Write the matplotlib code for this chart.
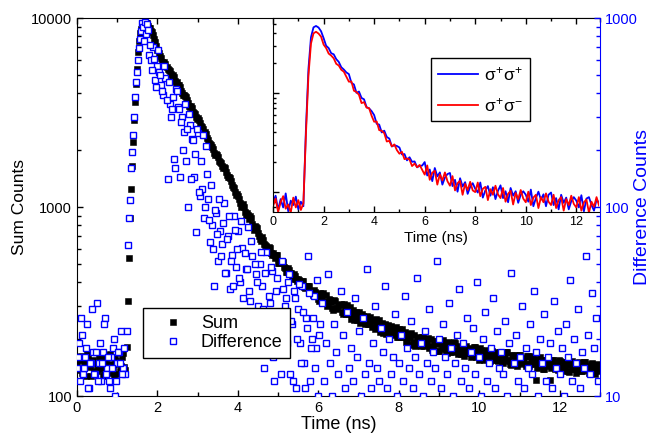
import numpy as np
import matplotlib
matplotlib.use("Agg")
import matplotlib.pyplot as plt
from matplotlib.ticker import LogLocator, NullFormatter, MultipleLocator

plt.rcParams['font.family'] = ['Liberation Sans', 'DejaVu Sans']
plt.rcParams['mathtext.fontset'] = 'custom'
plt.rcParams['mathtext.rm'] = 'Liberation Sans'
plt.rcParams['mathtext.it'] = 'Liberation Sans'
plt.rcParams['mathtext.bf'] = 'Liberation Sans:bold'

# ---- main plot data (counts per time bin) ----
# before the pulse, t = 0 .. 1.20 ns (every 0.05 ns) and 0.025 .. 1.175 ns
sum_base = [150, 138, 162, 131, 145, 170, 142, 128, 155, 148, 136, 160, 141,
            127, 152, 165, 133, 147, 139, 158, 130, 149, 144, 168, 137]
sum_base2 = [141, 156, 133, 149, 127, 163, 144, 152, 135, 171, 139, 146, 158,
             130, 150, 137, 166, 143, 129, 154, 147, 135, 160, 142]
diff_base = [14, 19, 26, 13, 16, 24, 11, 15, 17, 13, 31, 15, 12, 17, 26, 14,
             12, 16, 18, 10, 15, 17, 22, 14, 13]
diff_base2 = [16, 12, 21, 14, 18, 11, 15, 29, 13, 17, 12, 19, 15, 24, 13, 16,
              11, 14, 20, 12, 17, 15, 13, 18]
# rising edge, t = 1.25 .. 1.725 ns, every 0.025 ns
sum_rise = [182, 320, 540, 880, 1250, 1650, 2200, 2900, 3600, 4500, 5400,
            6600, 7600, 8300, 8700, 9000, 9250, 9400, 9450, 9400]
diff_rise = [22, 63, 88, 109, 160, 195, 240, 300, 380, 460, 520, 600, 690,
             770, 850, 940, 900, 760, 950, 820]
# decay, t = 1.75 .. 12.95 ns, every 0.05 ns
sum_decay = [
    9410, 8840, 8580, 8160, 7440, 6810, 6540, 6110, 5780, 5730,
    5390, 5240, 4910, 4880, 4550, 4430, 4290, 3990, 3920, 3810,
    3560, 3370, 3350, 3160, 2990, 2950, 2770, 2660, 2470, 2430,
    2250, 2160, 2080, 1920, 1900, 1850, 1730, 1640, 1620, 1540,
    1450, 1420, 1300, 1260, 1160, 1140, 1050, 1030, 1000, 906,
    907, 894, 817, 758, 781, 730, 680, 694, 635, 625,
    581, 609, 559, 558, 555, 508, 518, 520, 479, 455,
    475, 450, 426, 440, 414, 416, 389, 407, 378, 381,
    381, 352, 361, 366, 339, 325, 349, 330, 309, 341,
    313, 322, 292, 322, 290, 300, 306, 272, 291, 303,
    271, 257, 285, 269, 253, 280, 256, 264, 240, 266,
    240, 248, 253, 226, 241, 253, 226, 215, 240, 227,
    213, 236, 217, 224, 204, 226, 205, 211, 217, 193,
    207, 216, 194, 184, 206, 195, 184, 205, 189, 196,
    179, 200, 181, 189, 195, 174, 188, 197, 178, 169,
    190, 180, 171, 190, 176, 182, 166, 185, 169, 175,
    180, 161, 173, 182, 164, 156, 176, 167, 158, 176,
    163, 169, 155, 172, 156, 162, 168, 150, 161, 170,
    154, 146, 165, 156, 147, 165, 152, 158, 144, 162,
    147, 153, 157, 122, 152, 161, 145, 139, 155, 148,
    121, 156, 145, 150, 138, 154, 140, 146, 151, 135,
    146, 154, 139, 133, 150, 142, 135, 151, 140, 145,
    133, 149, 136, 142, 146]
# decay, in-between bins t = 1.775 .. 12.975 ns
sum_decay2 = [
    9020, 8860, 8440, 7700, 7100, 6780, 6300, 5870, 5840, 5480,
    5340, 5030, 4980, 4630, 4560, 4420, 4130, 3910, 3870, 3680,
    3440, 3420, 3200, 3110, 2930, 2890, 2670, 2600, 2500, 2320,
    2180, 2135, 2020, 1890, 1880, 1760, 1715, 1615, 1600, 1485,
    1445, 1380, 1270, 1195, 1165, 1100, 998, 1032, 945, 931,
    859, 875, 787, 790, 775, 706, 660, 671, 633, 584,
    614, 571, 570, 536, 554, 505, 517, 514, 474, 451,
    467, 448, 414, 434, 406, 410, 388, 404, 371, 383,
    383, 357, 342, 356, 345, 320, 343, 350, 316, 299,
    328, 315, 286, 320, 291, 302, 280, 306, 271, 291,
    296, 268, 253, 278, 268, 243, 272, 248, 258, 240,
    263, 232, 250, 256, 232, 219, 242, 233, 212, 238,
    217, 226, 210, 231, 204, 220, 226, 205, 194, 214,
    206, 187, 210, 191, 199, 186, 205, 183, 198, 203,
    185, 176, 196, 190, 173, 195, 179, 187, 174, 192,
    171, 186, 192, 174, 166, 183, 177, 163, 184, 168,
    176, 164, 181, 161, 174, 180, 163, 156, 173, 167,
    153, 173, 158, 165, 154, 171, 152, 165, 170, 155,
    147, 164, 158, 144, 164, 150, 157, 147, 163, 145,
    157, 162, 148, 141, 156, 151, 139, 156, 144, 150,
    141, 156, 139, 151, 156, 142, 136, 151, 146, 134,
    152, 139, 146, 137, 151, 135, 147, 152, 138, 132,
    147, 143, 131, 148, 136]
diff_decay = [
    930, 640, 600, 700, 470, 560, 520,
    440, 390, 480, 140, 350, 330, 180, 420, 340, 145,
    300, 250, 175, 100, 270, 230, 145, 74, 245, 115,
    125, 88, 210, 110, 65, 80, 38, 93, 52, 75,
    64, 105, 45, 70, 37, 56, 90, 48, 75, 40,
    61, 28, 47, 78, 32, 55, 19, 44, 30, 50,
    38, 14, 58, 25, 31, 46, 12, 36, 22, 28,
    52, 17, 33, 40, 13, 24, 36, 11, 29, 19,
    38, 15, 26, 55, 12, 20, 34, 18, 10, 24,
    31, 12, 19, 44, 15, 10, 24, 17, 13, 36,
    21, 11, 28, 14, 18, 12, 33, 16, 22, 10,
    26, 13, 47, 15, 11, 19, 30, 14, 12, 23,
    17, 38, 11, 20, 13, 16, 27, 10, 15, 21,
    12, 34, 18, 14, 25, 11, 16, 42, 13, 19,
    10, 22, 15, 29, 12, 17, 14, 52, 20, 11,
    24, 16, 13, 31, 18, 10, 15, 21, 37, 12,
    19, 14, 26, 11, 17, 23, 13, 40, 16, 10,
    20, 28, 12, 15, 18, 33, 11, 22, 14, 17,
    13, 25, 10, 19, 45, 15, 21, 12, 16, 30,
    11, 18, 14, 24, 13, 36, 17, 10, 20, 15,
    27, 12, 16, 19, 11, 32, 14, 22, 13, 18,
    10, 24, 16, 41, 12, 20, 15, 29, 11, 17,
    14, 55, 21, 13, 35, 18, 26, 12]
# in-between bins t = 1.775 .. 6.025 ns
diff_decay2 = [
    860, 720, 530, 610, 430, 680, 500, 410, 560, 370,
    460, 300, 380, 160, 410, 330, 280, 200, 350, 260,
    310, 140, 225, 190, 260, 120, 175, 240, 100, 150,
    85, 130, 60, 96, 72, 110, 55, 82, 45, 68,
    90, 52, 38, 76, 60, 42, 84, 33, 57, 47,
    36, 66, 24, 50, 40, 18, 58, 29, 45, 21,
    34, 48, 16, 27, 42, 22, 13, 37, 30, 19,
    44, 25, 12, 33, 20, 39, 15, 28, 11, 23,
    35, 18, 26, 14, 41, 21]

# ---- inset data, t = 0 .. 12.9 ns every 0.1 ns ----
pp_counts = [
    78, 92, 66, 85, 70, 97, 64, 82, 74, 90,
    67, 80, 72, 430, 1750, 3650, 4600, 4750, 4580, 4200,
    3580, 3000, 2840, 2522, 2458, 2197, 2060, 1820, 1725, 1613,
    1552, 1265, 1220, 1004, 1035, 892, 864, 721, 700, 656,
    599, 489, 480, 400, 417, 360, 347, 289, 297, 292,
    282, 240, 242, 209, 225, 202, 204, 178, 184, 185,
    201, 147, 169, 129, 175, 144, 158, 119, 140, 152,
    156, 115, 133, 101, 138, 114, 126, 96, 113, 123,
    108, 99, 125, 88, 104, 115, 92, 112, 85, 103,
    117, 87, 102, 79, 110, 92, 102, 78, 94, 102,
    94, 80, 106, 72, 87, 101, 84, 95, 72, 94,
    99, 74, 87, 67, 94, 78, 88, 67, 81, 89,
    82, 70, 93, 64, 86, 89, 74, 65, 84, 78]
pm_counts = [
    72, 86, 63, 79, 91, 68, 75, 62, 88, 70,
    83, 66, 77, 380, 1500, 3150, 4000, 4150, 3980, 3700,
    3080, 2840, 2500, 2388, 2238, 1970, 1894, 1714, 1642, 1465,
    1301, 1308, 1054, 1025, 958, 791, 809, 712, 703, 589,
    513, 516, 422, 416, 393, 324, 329, 289, 303, 265,
    244, 255, 215, 219, 213, 183, 194, 178, 188, 168,
    150, 186, 133, 157, 164, 119, 151, 131, 158, 129,
    116, 145, 104, 123, 130, 94, 121, 105, 127, 104,
    100, 125, 91, 108, 113, 83, 107, 94, 116, 95,
    87, 110, 80, 96, 103, 75, 98, 85, 105, 86,
    79, 101, 74, 88, 94, 69, 89, 79, 97, 80,
    74, 94, 69, 83, 89, 65, 85, 74, 92, 76,
    70, 89, 65, 79, 84, 62, 80, 71, 89, 73]

t_sum = np.concatenate([0.05 * np.arange(len(sum_base)),
                        0.025 + 0.05 * np.arange(len(sum_base2)),
                        1.25 + 0.025 * np.arange(len(sum_rise)),
                        1.75 + 0.05 * np.arange(len(sum_decay)),
                        1.775 + 0.05 * np.arange(len(sum_decay2))])
t_diff = np.concatenate([0.05 * np.arange(len(diff_base)),
                         0.025 + 0.05 * np.arange(len(diff_base2)),
                         1.25 + 0.025 * np.arange(len(diff_rise)),
                         1.75 + 0.05 * np.arange(len(diff_decay)),
                         1.775 + 0.05 * np.arange(len(diff_decay2))])
sum_counts = np.array(sum_base + sum_base2 + sum_rise + sum_decay + sum_decay2)
diff_counts = np.array(diff_base + diff_base2 + diff_rise + diff_decay
                       + diff_decay2)
t_ins = 0.1 * np.arange(len(pp_counts))

rect = [0.1156, 0.0917, 0.7853, 0.867]
fig = plt.figure(figsize=(6.66, 4.36), dpi=100)

ax = fig.add_axes(rect)
ax.plot(t_sum, sum_counts, 's', color='black', ms=4.0, mew=0.4, label='Sum')
ax.set_yscale('log')
ax.set_ylim(100, 10000)
ax.set_xlim(0, 13)
ax.set_yticks([100, 1000, 10000])
ax.set_yticklabels(['100', '1000', '10000'])
ax.yaxis.set_minor_locator(LogLocator(base=10, subs=np.arange(2, 10)))
ax.yaxis.set_minor_formatter(NullFormatter())
ax.xaxis.set_major_locator(MultipleLocator(2))
ax.xaxis.set_minor_locator(MultipleLocator(1))
ax.tick_params(which='both', direction='in', top=True, right=False,
               labelsize=10.5, width=1)
ax.tick_params(which='major', length=4.5)
ax.tick_params(which='minor', length=3)
ax.spines['right'].set_visible(False)
ax.set_xlabel('Time (ns)', fontsize=13, labelpad=1)
ax.set_ylabel('Sum Counts', fontsize=12.5, labelpad=3)

ax2 = ax.twinx()
ax2.plot(t_diff, diff_counts, 's', mfc='white', mec='blue', ms=4.2, mew=1,
         label='Difference')
ax2.set_yscale('log')
ax2.set_ylim(10, 1000)
ax2.tick_params(which='both', right=False, labelright=False)
for s in ax2.spines.values():
    s.set_visible(False)

h1, l1 = ax.get_legend_handles_labels()
h2, l2 = ax2.get_legend_handles_labels()
leg = ax2.legend(h1 + h2, l1 + l2, loc='upper left',
                 bbox_to_anchor=(0.1262, 0.2328), borderaxespad=0,
                 fontsize=13, handlelength=2.5, handletextpad=0.3,
                 labelspacing=0.1, borderpad=0.4, fancybox=False,
                 framealpha=1, edgecolor='black')
leg.get_frame().set_linewidth(1.0)

# inset with the two polarisation channels
ins = fig.add_axes([0.41, 0.5138, 0.4895, 0.4450], zorder=3)
ins.plot(t_ins, pp_counts, color='blue', lw=1.3, label=r'$\sigma^{+}\sigma^{+}$')
ins.plot(t_ins, pm_counts, color='red', lw=1.3, label=r'$\sigma^{+}\sigma^{-}$')
ins.set_yscale('log')
ins.set_ylim(63, 5720)
ins.set_xlim(0, 12.9)
ins.set_yticks([100, 1000])
ins.yaxis.set_minor_locator(LogLocator(base=10, subs=np.arange(2, 10)))
ins.yaxis.set_major_formatter(NullFormatter())
ins.yaxis.set_minor_formatter(NullFormatter())
ins.xaxis.set_major_locator(MultipleLocator(2))
ins.xaxis.set_minor_locator(MultipleLocator(1))
ins.tick_params(which='both', direction='in', top=True, right=False,
                labelsize=9, width=1, pad=3)
ins.tick_params(which='major', length=4)
ins.tick_params(which='minor', length=2.5)
ins.spines['right'].set_visible(False)
ins.set_xlabel('Time (ns)', fontsize=11, labelpad=2)
ileg = ins.legend(loc='upper left', bbox_to_anchor=(0.486, 0.794),
                  borderaxespad=0, fontsize=12.5, handlelength=2.3,
                  handletextpad=0.35, labelspacing=0.75, borderpad=0.4,
                  fancybox=False, framealpha=1, edgecolor='black')
ileg.get_frame().set_linewidth(1.0)

# right axis drawn last so its ticks show over the inset
ax3 = fig.add_axes(rect, zorder=5)
ax3.patch.set_visible(False)
ax3.set_xlim(0, 13)
ax3.set_xticks([])
ax3.set_yscale('log')
ax3.set_ylim(10, 1000)
ax3.yaxis.tick_right()
ax3.yaxis.set_label_position('right')
ax3.set_yticks([10, 100, 1000])
ax3.set_yticklabels(['10', '100', '1000'])
ax3.yaxis.set_minor_locator(LogLocator(base=10, subs=np.arange(2, 10)))
ax3.yaxis.set_minor_formatter(NullFormatter())
for side in ['left', 'top', 'bottom']:
    ax3.spines[side].set_visible(False)
ax3.spines['right'].set_color('blue')
ax3.tick_params(which='both', direction='in', colors='blue', labelsize=10.5,
                width=1)
ax3.tick_params(which='major', length=4.5)
ax3.tick_params(which='minor', length=3)
ax3.set_ylabel('Difference Counts', color='blue', fontsize=14, labelpad=-3)

fig.savefig('out.png', dpi=100)
